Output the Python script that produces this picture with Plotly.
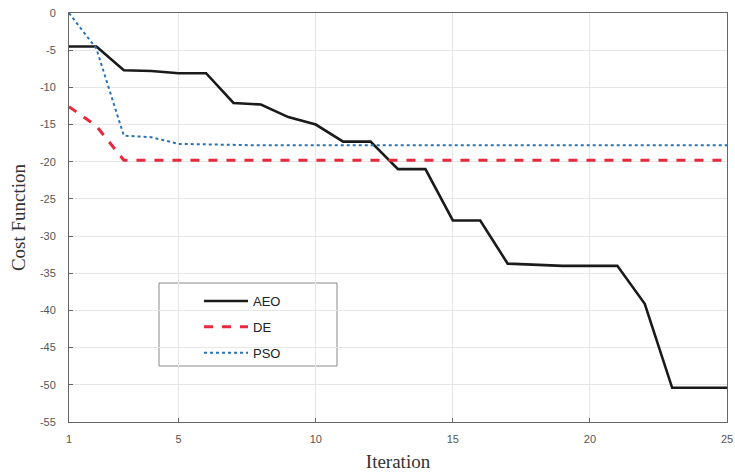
import plotly.graph_objects as go

iterations = list(range(1, 26))
aeo = [-4.5, -4.5, -7.7, -7.8, -8.1, -8.1, -12.1, -12.3, -14.0, -15.0, -17.3, -17.3,
       -21.0, -21.0, -27.9, -27.9, -33.7, -33.9, -34.0, -34.0, -34.0, -39.1, -50.4, -50.4, -50.4]
de = [-12.6, -15.2, -19.8] + [-19.8] * 22
pso = [0.0, -4.8, -16.5, -16.7, -17.6, -17.7] + [-17.8] * 19

x_ticks = [1, 5, 10, 15, 20, 25]
y_ticks = list(range(0, -60, -5))

W, H = 735, 472
L, R, T, B = 69, 8, 13, 50
PW = W - L - R
PH = H - T - B

def px_x(p):
    return (p - L) / PW

def px_y(p):
    return 1 - (p - T) / PH

fig = go.Figure()
fig.add_trace(go.Scatter(x=iterations, y=aeo, mode="lines", name="AEO", legendgroup="a",
                         line=dict(color="#1a1a1a", width=2.6)))
fig.add_trace(go.Scatter(x=iterations, y=de, mode="lines", name="DE", legendgroup="b",
                         line=dict(color="#e8283c", width=3, dash="dash")))
fig.add_trace(go.Scatter(x=iterations, y=pso, mode="lines", name="PSO", legendgroup="c",
                         line=dict(color="#2a72b8", width=2, dash="dot")))

axis_common = dict(showline=True, linecolor="#666", linewidth=1, mirror=True,
                   showgrid=True, gridcolor="#e6e6e6", gridwidth=1,
                   ticks="inside", ticklen=4, tickcolor="#666",
                   tickfont=dict(family="Liberation Sans", size=11, color="#555"),
                   zeroline=False, automargin=False, ticklabeloverflow="allow")

fig.update_layout(
    width=W, height=H,
    margin=dict(l=L, r=R, t=T, b=B),
    plot_bgcolor="white", paper_bgcolor="white",
    xaxis=dict(range=[1, 25], tickvals=x_ticks, ticktext=[str(v) for v in x_ticks],
               ticklabelstandoff=7,
               title=dict(text="Iteration", font=dict(family="Liberation Serif", size=19, color="#333"),
                          standoff=14),
               **axis_common),
    yaxis=dict(range=[-55, 0], tickvals=y_ticks, ticktext=[str(v) for v in y_ticks],
               ticklabelstandoff=10,
               title=dict(text="Cost Function", font=dict(family="Liberation Serif", size=19, color="#333"),
                          standoff=9),
               **axis_common),
    legend=dict(x=px_x(161), y=px_y(286), xanchor="left", yanchor="top",
                borderwidth=0, bgcolor="rgba(0,0,0,0)",
                font=dict(family="Liberation Sans", size=13, color="#222"),
                indentation=38, tracegroupgap=6, itemwidth=44),
    showlegend=True,
    shapes=[dict(type="rect", xref="paper", yref="paper",
                 x0=px_x(159), x1=px_x(337), y0=px_y(366), y1=px_y(283),
                 line=dict(color="#888", width=1), fillcolor="white", layer="between")],
)

fig.write_html("out.html", post_script="document.body.style.margin='0';",
               config={"displayModeBar": False})
